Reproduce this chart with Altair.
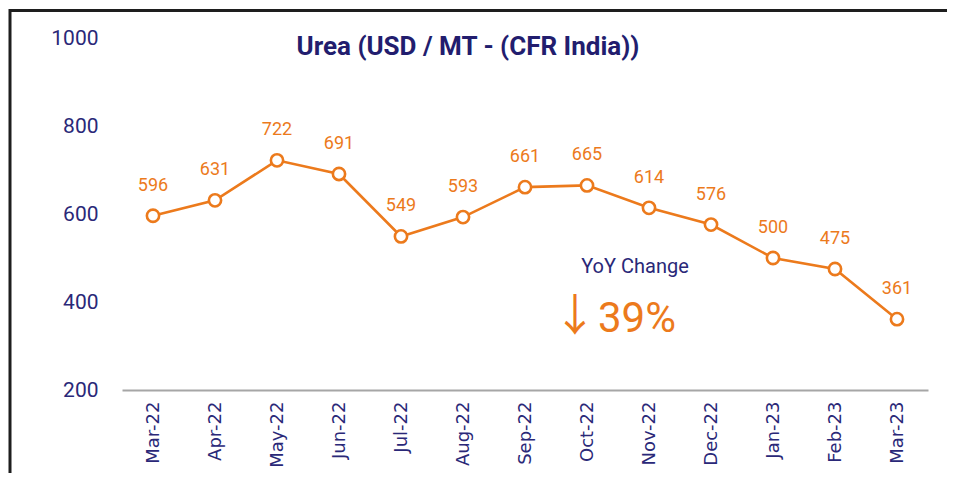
import altair as alt
import pandas as pd

months = ["Mar-22", "Apr-22", "May-22", "Jun-22", "Jul-22", "Aug-22", "Sep-22",
          "Oct-22", "Nov-22", "Dec-22", "Jan-23", "Feb-23", "Mar-23"]
prices = [596, 631, 722, 691, 549, 593, 661, 665, 614, 576, 500, 475, 361]
y_ticks = [200, 400, 600, 800, 1000]

ORANGE = "#EC7A1C"
NAVY = "#2A2878"
TITLE_NAVY = "#221D6E"
FONT = "Roboto"

df = pd.DataFrame({"month": months, "price": prices})

base = alt.Chart(df).encode(
    x=alt.X("month:O", sort=months, title=None,
            scale=alt.Scale(padding=0.5),
            axis=alt.Axis(labelAngle=270, ticks=False, domainColor="#A6A6A6",
                          domainWidth=2, labelPadding=11, labelFontSize=18,
                          labelColor=NAVY, labelFont="DejaVu Sans")),
    y=alt.Y("price:Q", title=None,
            scale=alt.Scale(domain=[200, 1000], nice=False, zero=False),
            axis=alt.Axis(values=y_ticks, format="d", domain=False, ticks=False,
                          grid=False, labelPadding=24, labelFontSize=21,
                          labelColor=NAVY, labelFont=FONT)),
)

line = base.mark_line(color=ORANGE, strokeWidth=2.6)
points = base.mark_point(shape="circle", filled=True, fill="white", stroke=ORANGE,
                         strokeWidth=2.6, size=150, opacity=1)
labels = base.mark_text(color=ORANGE, fontSize=18, font=FONT, dy=-30,
                        baseline="middle").encode(text=alt.Text("price:Q"))

ann = pd.DataFrame({"t": [0]})
title = alt.Chart(ann).mark_text(text="Urea  (USD / MT - (CFR India))", color=TITLE_NAVY,
                                 fontSize=26, fontWeight="bold", font=FONT,
                                 baseline="middle", align="center").encode(
    x=alt.value(346), y=alt.value(9))
yoy = alt.Chart(ann).mark_text(text="YoY Change", color=NAVY, fontSize=20,
                               font=FONT, baseline="middle", align="center").encode(
    x=alt.value(513), y=alt.value(229))
arrow = alt.Chart(ann).mark_text(text="↓", color=ORANGE, fontSize=44,
                                 font="Noto Sans CJK SC", baseline="middle",
                                 align="center").encode(
    x=alt.value(453), y=alt.value(280))
pct = alt.Chart(ann).mark_text(text="39%", color=ORANGE, fontSize=42,
                               font=FONT, baseline="middle", align="center").encode(
    x=alt.value(515), y=alt.value(281))

top_rule = alt.Chart(ann).mark_rule(color="#1E1E1E", strokeWidth=3).encode(
    x=alt.value(-113), x2=alt.value(825), y=alt.value(-27.5))
left_rule = alt.Chart(ann).mark_rule(color="#1E1E1E", strokeWidth=3).encode(
    x=alt.value(-112), y=alt.value(-29), y2=alt.value(435))

chart = alt.layer(line, points, labels, title, yoy, arrow, pct, top_rule, left_rule).properties(
    width=806, height=352,
    autosize=alt.AutoSizeParams(type="none"),
    padding={"left": 114, "top": 30, "right": 19, "bottom": 85},
).configure_view(stroke=None)

chart.save("out.html", embed_options={"renderer": "svg", "actions": False})
